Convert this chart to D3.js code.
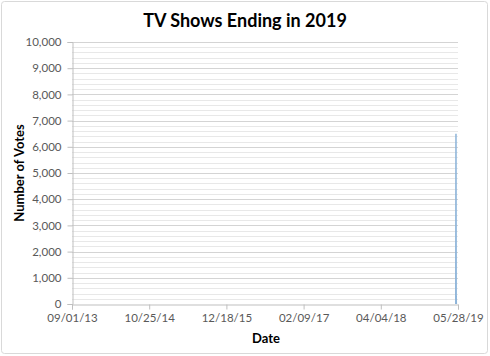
<!DOCTYPE html>
<html><head><meta charset="utf-8">
<script src="https://cdn.jsdelivr.net/npm/d3@7"></script>
<style>body{margin:0;background:#fff;}svg{display:block;font-family:Lato,"Open Sans",sans-serif;}</style>
</head><body>
<svg id="c" width="490" height="356"></svg>
<script>
const dates = ["2019-05-16","2019-05-17","2019-05-18","2019-05-19"];
const votes = [0, 6500, 300, 0];
const xTickLabels = ["09/01/13","10/25/14","12/18/15","02/09/17","04/04/18","05/28/19"];
const yTicks = [0,1000,2000,3000,4000,5000,6000,7000,8000,9000,10000];

const svg = d3.select("#c");
const parse = d3.timeParse("%m/%d/%y");
const xTickDates = xTickLabels.map(parse);
const data = dates.map((d,i)=>({date:d3.timeParse("%Y-%m-%d")(d), v:votes[i]}));

const L=72, R=458, T=42, B=304;
const x = d3.scaleTime().domain([xTickDates[0], xTickDates[xTickDates.length-1]]).range([L,R]);
const y = d3.scaleLinear().domain([0,10000]).range([B,T]);

svg.append("rect").attr("x",1.5).attr("y",1.5).attr("width",486).attr("height",352)
  .attr("fill","#fff").attr("stroke","#D9D9D9").attr("rx",3);

// minor gridlines
const minor = d3.range(0,10001,200).filter(v=>v%1000!==0);
svg.append("g").selectAll("line").data(minor).join("line")
  .attr("x1",L).attr("x2",R).attr("y1",d=>Math.round(y(d))+0.5).attr("y2",d=>Math.round(y(d))+0.5)
  .attr("stroke","#E8E8E8").attr("stroke-width",1);
// major gridlines
svg.append("g").selectAll("line").data(yTicks.slice(1)).join("line")
  .attr("x1",L).attr("x2",R).attr("y1",d=>Math.round(y(d))+0.5).attr("y2",d=>Math.round(y(d))+0.5)
  .attr("stroke","#D4D4D4").attr("stroke-width",1);

// y axis
const yAxis = svg.append("g").attr("transform",`translate(${L+0.5},0)`)
  .call(d3.axisLeft(y).tickValues(yTicks).tickSize(5).tickPadding(6).tickFormat(d3.format(",")));
yAxis.select(".domain").attr("stroke","#BFBFBF");
yAxis.selectAll(".tick line").attr("stroke","#BFBFBF");
yAxis.selectAll("text").attr("fill","#595959").style("font-size","11.5px").style("font-family","Lato,'Open Sans',sans-serif");

// x axis
const xAxis = svg.append("g").attr("transform",`translate(0,${B+0.5})`)
  .call(d3.axisBottom(x).tickValues(xTickDates).tickSize(5).tickPadding(4).tickFormat((d,i)=>xTickLabels[i]));
xAxis.select(".domain").attr("stroke","#BFBFBF");
xAxis.selectAll(".tick line").attr("stroke","#BFBFBF");
xAxis.selectAll("text").attr("fill","#595959").style("font-size","11.5px").style("font-family","Lato,'Open Sans',sans-serif");

// line
svg.append("path").datum(data)
  .attr("d", d3.line().x(d=>x(d.date)).y(d=>y(d.v)))
  .attr("fill","none").attr("stroke","#8DB4D9").attr("stroke-width",1.5);

// titles
svg.append("text").attr("x",245).attr("y",27).attr("text-anchor","middle")
  .style("font-size","18px").style("font-weight","bold").attr("fill","#000").text("TV Shows Ending in 2019");
svg.append("text").attr("x",266).attr("y",343).attr("text-anchor","middle")
  .style("font-size","13px").style("font-weight","bold").attr("fill","#000").text("Date");
svg.append("text").attr("transform","translate(24,173) rotate(-90)").attr("text-anchor","middle")
  .style("font-size","13px").style("font-weight","bold").attr("fill","#000").text("Number of Votes");
</script>
</body></html>
